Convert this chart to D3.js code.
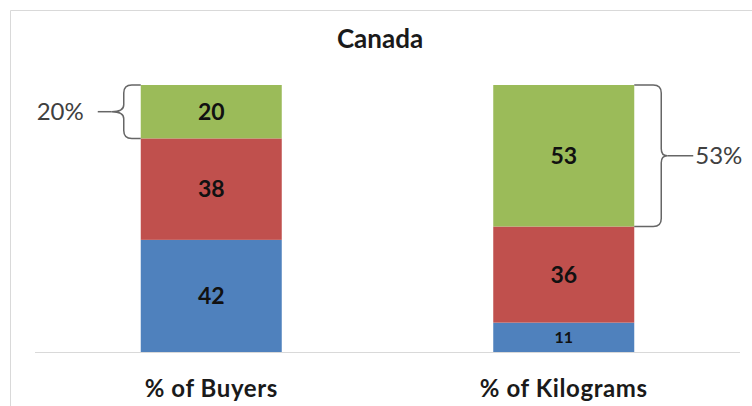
<!DOCTYPE html>
<html>
<head>
<meta charset="utf-8">
<script src="https://cdn.jsdelivr.net/npm/d3@7/dist/d3.min.js"></script>
<style>
  html, body { margin: 0; padding: 0; background: #fff; }
  svg { display: block; font-family: Lato, "Open Sans", sans-serif; }
</style>
</head>
<body>
<svg id="chart" width="752" height="406"></svg>
<script>
// Canada: share of buyers vs share of kilograms, stacked by segment
const categories = ["% of Buyers", "% of Kilograms"];
const segments = ["Light", "Medium", "Heavy"];
const lightValues = [42, 11];
const mediumValues = [38, 36];
const heavyValues = [20, 53];
const segmentColors = ["#4F81BD", "#C0504D", "#9BBB59"];
const braceLabels = ["20%", "53%"];

const rows = categories.map((c, i) => ({
  category: c,
  Light: lightValues[i],
  Medium: mediumValues[i],
  Heavy: heavyValues[i]
}));

const svg = d3.select("#chart");

// chart area frame (runs off the canvas at right and bottom)
svg.append("path")
  .attr("d", "M10.5,406 L10.5,10.5 L752,10.5")
  .attr("fill", "none")
  .attr("stroke", "#d9d9d9")
  .attr("stroke-width", 1);

svg.append("text")
  .attr("x", 380).attr("y", 48)
  .attr("text-anchor", "middle")
  .attr("font-size", 26).attr("font-weight", 700)
  .attr("fill", "#1a1a1a")
  .text("Canada");

const plot = { left: 35, right: 740, top: 85, bottom: 352 };

const x = d3.scaleBand()
  .domain(categories)
  .range([plot.left, plot.right])
  .paddingInner(0.6)
  .paddingOuter(0.3);

const y = d3.scaleLinear().domain([0, 100]).range([plot.bottom, plot.top]);

const series = d3.stack().keys(segments)(rows);

const groups = svg.append("g").selectAll("g")
  .data(series).join("g")
  .attr("fill", (d, i) => segmentColors[i]);

groups.selectAll("rect")
  .data(d => d.map(p => ({ p, key: d.key })))
  .join("rect")
  .attr("x", d => x(d.p.data.category))
  .attr("width", x.bandwidth())
  .attr("y", d => y(d.p[1]))
  .attr("height", d => y(d.p[0]) - y(d.p[1]));

// value labels inside segments
groups.selectAll("text")
  .data(d => d.map(p => ({ p, key: d.key })))
  .join("text")
  .attr("x", d => x(d.p.data.category) + x.bandwidth() / 2)
  .attr("y", d => (y(d.p[0]) + y(d.p[1])) / 2)
  .attr("dy", "0.36em")
  .attr("text-anchor", "middle")
  .attr("font-weight", 700)
  .attr("font-size", d => (d.p[1] - d.p[0]) < 15 ? 16 : 23)
  .attr("fill", "#111")
  .text(d => d.p[1] - d.p[0]);

// baseline
svg.append("line")
  .attr("x1", plot.left).attr("x2", plot.right)
  .attr("y1", plot.bottom + 0.5).attr("y2", plot.bottom + 0.5)
  .attr("stroke", "#d9d9d9");

// category labels
svg.append("g").selectAll("text")
  .data(categories).join("text")
  .attr("x", d => x(d) + x.bandwidth() / 2)
  .attr("y", 397)
  .attr("text-anchor", "middle")
  .attr("font-size", 24).attr("font-weight", 700)
  .attr("letter-spacing", 0.6)
  .attr("fill", "#1a1a1a")
  .text(d => d);

// curly brace: xEdge = bar side, xv = vertical stroke, xt = tip
function brace(xEdge, xv, xt, y0, y1) {
  const m = (y0 + y1) / 2;
  const s = Math.sign(xv - xEdge);
  return [
    `M${xEdge},${y0}`,
    `L${xv - 8 * s},${y0}`,
    `Q${xv},${y0} ${xv},${y0 + 8}`,
    `L${xv},${m - 7}`,
    `Q${xv},${m} ${xt},${m}`,
    `Q${xv},${m} ${xv},${m + 7}`,
    `L${xv},${y1 - 8}`,
    `Q${xv},${y1} ${xv - 8 * s},${y1}`,
    `L${xEdge},${y1}`
  ].join(" ");
}

const heavySeries = series[2];
const annot = svg.append("g")
  .attr("fill", "none").attr("stroke", "#666").attr("stroke-width", 1.5);

// left bar: brace opening toward the bar, label on the left
{
  const p = heavySeries[0];
  const xl = x(categories[0]);
  const y0 = y(p[1]), y1 = y(p[0]);
  const m = (y0 + y1) / 2;
  annot.append("path").attr("d", brace(xl, xl - 17, xl - 29, y0, y1));
  annot.append("line").attr("x1", xl - 29).attr("x2", xl - 43).attr("y1", m).attr("y2", m);
  svg.append("text")
    .attr("x", xl - 57).attr("y", m).attr("dy", "0.36em")
    .attr("text-anchor", "end")
    .attr("font-size", 24).attr("fill", "#404040")
    .text(braceLabels[0]);
}
// right bar: brace opening toward the bar, label on the right
{
  const p = heavySeries[1];
  const xr = x(categories[1]) + x.bandwidth();
  const y0 = y(p[1]), y1 = y(p[0]);
  const m = (y0 + y1) / 2;
  annot.append("path").attr("d", brace(xr, xr + 27, xr + 33, y0, y1));
  annot.append("line").attr("x1", xr + 33).attr("x2", xr + 59).attr("y1", m).attr("y2", m);
  svg.append("text")
    .attr("x", xr + 61).attr("y", m).attr("dy", "0.36em")
    .attr("text-anchor", "start")
    .attr("font-size", 24).attr("fill", "#404040")
    .text(braceLabels[1]);
}
</script>
</body>
</html>
